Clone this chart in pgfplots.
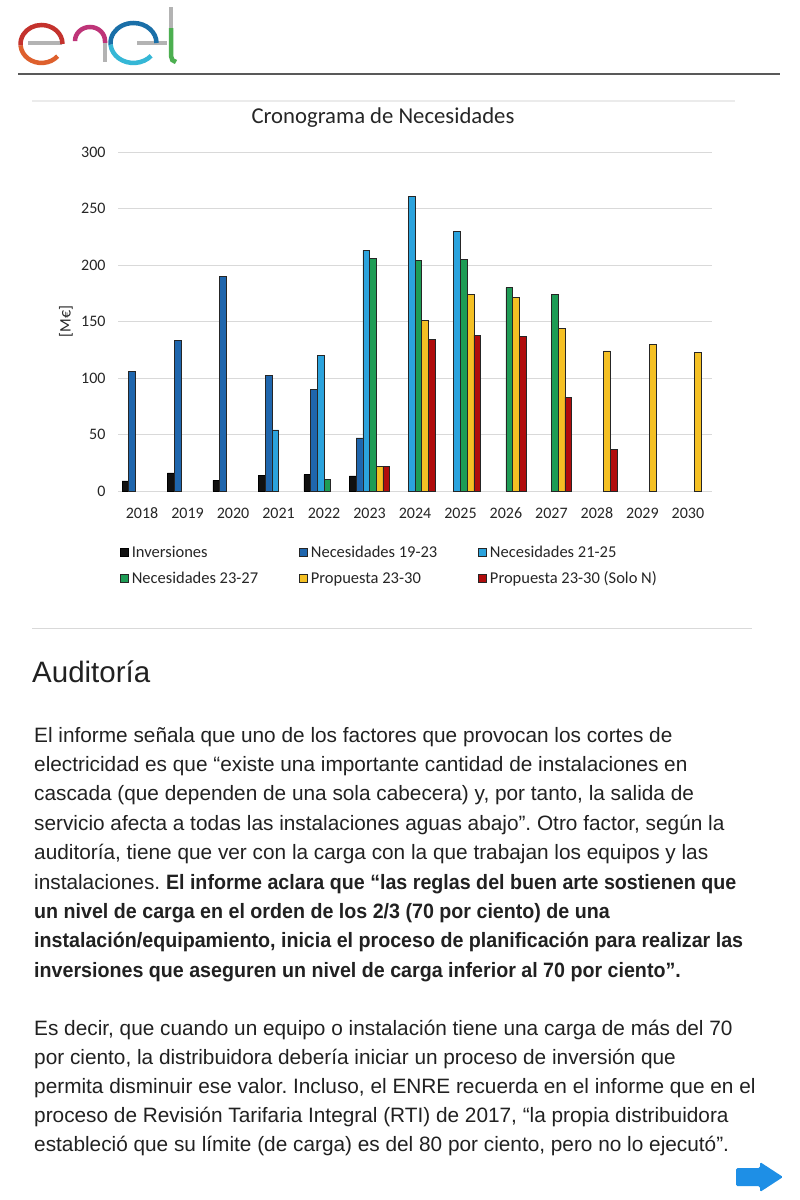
\documentclass[border=0pt]{standalone}
\usepackage{pgfplots}
\pgfplotsset{compat=1.18}
\usepackage{fontspec}
\setmainfont{Liberation Sans}[BoldFeatures={FakeStretch=0.945}]
\newfontfamily\carlito{Carlito}[Numbers=Lining]
\definecolor{cInv}{HTML}{111111}
\definecolor{cN19}{HTML}{1F66AD}
\definecolor{cN21}{HTML}{2BA3DD}
\definecolor{cN23}{HTML}{1E9C55}
\definecolor{cP}{HTML}{F4C024}
\definecolor{cPS}{HTML}{B00C0C}
\definecolor{gridc}{HTML}{D9D9D9}
\definecolor{txt}{HTML}{212121}
\definecolor{logogray}{HTML}{B3B3B3}
\pgfplotsset{/pgfplots/ybar legend/.style={/pgfplots/legend image code/.code={\draw[##1,/tikz/.cd,yshift=-4pt] (0pt,0pt) rectangle (8pt,8pt);}}}
\newcommand{\bodyfont}{\fontsize{20.8}{25}\selectfont}
\newcommand{\lentry}[1]{\makebox[167.5pt][l]{\strut\hspace*{2pt}#1}}
\frenchspacing
\begin{document}
\begin{tikzpicture}
\fill[white] (0pt,0pt) rectangle (800pt,-1200pt);
% logo
\draw[logogray, line width=4pt] (28pt,-43pt) -- (62pt,-43pt);
\draw[line width=4.5pt, color={rgb,255:red,196;green,50;blue,45}] (62.5pt,-44pt) arc[start angle=0, end angle=185, x radius=21pt, y radius=19pt];
\draw[line width=4.5pt, color={rgb,255:red,222;green,96;blue,45}] (20.6pt,-45.6pt) arc[start angle=185, end angle=320, x radius=21pt, y radius=19pt];
\draw[line width=4.5pt, color={rgb,255:red,190;green,52;blue,120}] (75pt,-40pt) -- (75pt,-41pt) arc[start angle=180,end angle=0,x radius=15pt,y radius=14pt] -- (105pt,-43pt);
\draw[logogray, line width=4pt] (105pt,-43pt) -- (105pt,-62pt);
\draw[logogray, line width=4pt] (137pt,-43pt) -- (167pt,-43pt);
\draw[line width=4.5pt, color={rgb,255:red,26;green,111;blue,168}] (156.5pt,-43pt) arc[start angle=0, end angle=185, x radius=23pt, y radius=20pt];
\draw[line width=4.5pt, color={rgb,255:red,53;green,183;blue,214}] (110.6pt,-44.7pt) arc[start angle=185, end angle=320, x radius=23pt, y radius=20pt];
\draw[logogray, line width=4pt] (171pt,-7pt) -- (171pt,-28pt);
\draw[line width=4.5pt, color={rgb,255:red,76;green,175;blue,80}] (171pt,-28pt) -- (171pt,-56pt) to[out=-90,in=180] (176pt,-62pt);
% header rule
\draw[black!65, line width=2.5pt] (18pt,-74pt) -- (780pt,-74pt);
\draw[black!8, line width=1.2pt] (32pt,-101pt) -- (735pt,-101pt);
\draw[black!15, line width=1pt] (32pt,-628pt) -- (752pt,-628pt);
\node[font=\carlito\fontsize{22.7}{26}\selectfont, text=black!85] at (383pt,-118pt) {Cronograma de Necesidades};
\begin{axis}[
  at={(118pt,-491pt)}, anchor=south west, scale only axis,
  width=594pt, height=339pt,
  xmin=-0.53, xmax=12.53, ymin=0, ymax=300,
  ytick={0,50,...,300}, xtick={0,...,12},
  xticklabels={2018,2019,2020,2021,2022,2023,2024,2025,2026,2027,2028,2029,2030},
  ybar=0pt, bar width=6.7pt,
  ymajorgrids, grid style={gridc, line width=1pt},
  axis line style={draw=none}, major tick length=0pt,
  /pgf/number format/assume math mode=true,
  tick label style={font=\carlito\fontsize{16}{19}\selectfont, text=black!85},
  yticklabel style={xshift=-9pt},
  xticklabel style={yshift=-13pt, text height=11pt, text depth=0pt},
  ylabel={[M€]},
  every axis y label/.style={at={(rel axis cs:-0.0875,0.5)}, rotate=90, anchor=center, font=\carlito\fontsize{16}{19}\selectfont, text=black!85},
  legend columns=3,
  legend cell align=left,
  legend style={at={(rel axis cs:0.0025,-0.155)}, anchor=north west, draw=none, fill=none,
    font=\carlito\fontsize{16.5}{18}\selectfont, text=black!85, inner sep=0pt,
    nodes={inner sep=1.5pt}, column sep=0pt, row sep=9pt},
]
\addplot[fill=cInv, draw=black, line width=0.6pt] coordinates {(0,9) (1,16) (2,9.5) (3,14) (4,14.5) (5,13.3)};
\addlegendentry{\lentry{Inversiones}}
\addplot[fill=cN19, draw=black!85, line width=0.6pt] coordinates {(0,106) (1,133) (2,190) (3,102) (4,90) (5,47)};
\addlegendentry{\lentry{Necesidades 19-23}}
\addplot[fill=cN21, draw=black!85, line width=0.6pt] coordinates {(3,54) (4,120) (5,213) (6,261) (7,230)};
\addlegendentry{\lentry{Necesidades 21-25}}
\addplot[fill=cN23, draw=black!85, line width=0.6pt] coordinates {(4,10.6) (5,206) (6,204) (7,205) (8,180) (9,174)};
\addlegendentry{\lentry{Necesidades 23-27}}
\addplot[fill=cP, draw=black!85, line width=0.6pt] coordinates {(5,22) (6,151) (7,174) (8,171) (9,144) (10,124) (11,130) (12,123)};
\addlegendentry{\lentry{Propuesta 23-30}}
\addplot[fill=cPS, draw=black!85, line width=0.6pt] coordinates {(5,22) (6,134) (7,138) (8,137) (9,83) (10,37)};
\addlegendentry{\lentry{Propuesta 23-30 (Solo N)}}
\end{axis}
% article text
\node[anchor=base west, inner sep=0pt, text=txt, font=\fontsize{29.5}{34}\selectfont] at (32pt,-682pt) {Auditoría};
\begin{scope}[every node/.style={anchor=base west, inner sep=0pt, text=txt, font=\bodyfont}]
\node at (34pt,-742pt) {El informe señala que uno de los factores que provocan los cortes de};
\node at (34pt,-771.4pt) {electricidad es que “existe una importante cantidad de instalaciones en};
\node at (34pt,-800.8pt) {cascada (que dependen de una sola cabecera) y, por tanto, la salida de};
\node at (34pt,-830.2pt) {servicio afecta a todas las instalaciones aguas abajo”. Otro factor, según la};
\node at (34pt,-859.6pt) {auditoría, tiene que ver con la carga con la que trabajan los equipos y las};
\node at (34pt,-889pt) {instalaciones. \textbf{El informe aclara que “las reglas del buen arte sostienen que}};
\node at (34pt,-918.4pt) {\textbf{un nivel de carga en el orden de los 2/3 (70 por ciento) de una}};
\node at (34pt,-947.8pt) {\textbf{instalación/equipamiento, inicia el proceso de planificación para realizar las}};
\node at (34pt,-977.2pt) {\textbf{inversiones que aseguren un nivel de carga inferior al 70 por ciento”.}};
\node at (34pt,-1035pt) {Es decir, que cuando un equipo o instalación tiene una carga de más del 70};
\node at (34pt,-1064pt) {por ciento, la distribuidora debería iniciar un proceso de inversión que};
\node at (34pt,-1093pt) {permita disminuir ese valor. Incluso, el ENRE recuerda en el informe que en el};
\node at (34pt,-1122pt) {proceso de Revisión Tarifaria Integral (RTI) de 2017, “la propia distribuidora};
\node at (34pt,-1151pt) {estableció que su límite (de carga) es del 80 por ciento, pero no lo ejecutó”.};
\end{scope}
% next arrow
\fill[color={rgb,255:red,30;green,143;blue,230}, rounded corners=1.5pt] (736pt,-1168pt) -- (760pt,-1168pt) -- (760pt,-1162pt) -- (783pt,-1177pt) -- (760pt,-1192pt) -- (760pt,-1186pt) -- (736pt,-1186pt) -- cycle;
\end{tikzpicture}
\end{document}
